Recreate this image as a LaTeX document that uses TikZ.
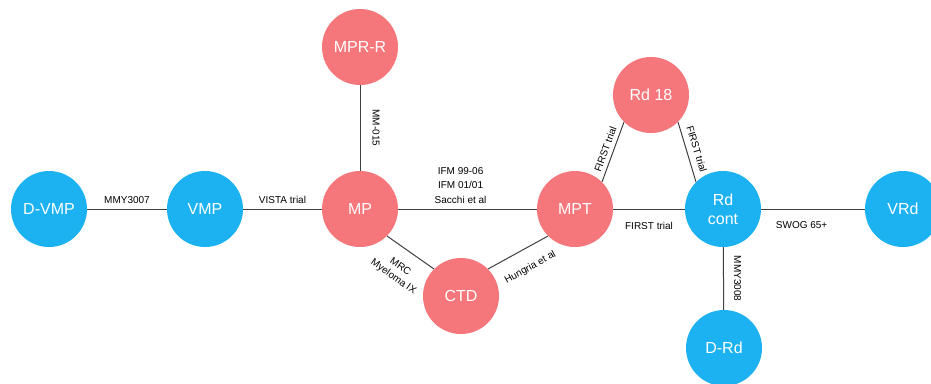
\documentclass[tikz,border=0pt]{standalone}
\usepackage{fontspec}
\setmainfont{Liberation Sans}
\definecolor{nblue}{RGB}{28,178,242}
\definecolor{nred}{RGB}{245,118,123}
\definecolor{edgec}{RGB}{64,64,64}
\begin{document}
\begin{tikzpicture}[x=1pt,y=-1pt,
  rnode/.style={circle, fill=nred, minimum size=76pt, inner sep=0pt, text=white,
    font=\fontsize{16}{19}\selectfont, align=center},
  bnode/.style={rnode, fill=nblue},
  link/.style={draw=edgec, line width=1pt},
  lab/.style={font=\fontsize{10}{14.5}\selectfont, text=black, align=center}]
\useasboundingbox (0,0) rectangle (931,383);
\clip (0,0) rectangle (931,383);
\fill[white] (0,0) rectangle (931,383);
\node[bnode] (DVMP) at (49,209) {D-VMP};
\node[bnode] (VMP) at (205,209) {VMP};
\node[rnode] (MP) at (360,209) {MP};
\node[rnode] (MPRR) at (360,47) {MPR-R};
\node[rnode] (CTD) at (461,296) {CTD};
\node[rnode] (MPT) at (575,209) {MPT};
\node[rnode] (Rd18) at (651,95) {Rd 18};
\node[bnode] (Rdcont) at (723,209) {Rd\\cont};
\node[bnode] (VRd) at (903,209) {VRd};
\node[bnode] (DRd) at (724,348) {D-Rd};
\draw[link] (DVMP) -- node[lab, anchor=south, inner sep=5pt] {MMY3007} (VMP);
\draw[link] (VMP) -- node[lab, anchor=south, inner sep=5pt] {VISTA trial} (MP);
\draw[link] (MPRR) -- node[lab, rotate=-90, anchor=south, inner sep=12pt] {MM-015} (MP);
\draw[link] (MP) -- node[lab, pos=0.45, anchor=south, inner sep=5pt] {IFM 99-06\\IFM 01/01\\Sacchi et al} (MPT);
\draw[link] (MP.-45) -- node[lab, rotate=-35, anchor=north, inner sep=13pt, font=\fontsize{10}{12}\selectfont] {MRC\\Myeloma IX} (CTD.135);
\draw[link] (CTD.45) -- node[lab, pos=0.55, rotate=29, anchor=north, inner sep=14pt] {Hungria et al} (MPT.225);
\draw[link] (MPT.45) -- node[lab, rotate=70, anchor=south, inner sep=4pt] {FIRST trial} (Rd18.225);
\draw[link] (Rd18.-45) -- node[lab, rotate=-73, anchor=south, inner sep=6pt] {FIRST trial} (Rdcont.135);
\draw[link] (MPT) -- node[lab, anchor=north, inner sep=12.5pt] {FIRST trial} (Rdcont);
\draw[link] (Rdcont) -- node[lab, pos=0.39, anchor=north, inner sep=12.5pt] {SWOG 65+} (VRd);
\draw[link] (Rdcont) -- node[lab, rotate=-90, anchor=south, inner sep=10pt] {MMY3008} (DRd);
\end{tikzpicture}
\end{document}
